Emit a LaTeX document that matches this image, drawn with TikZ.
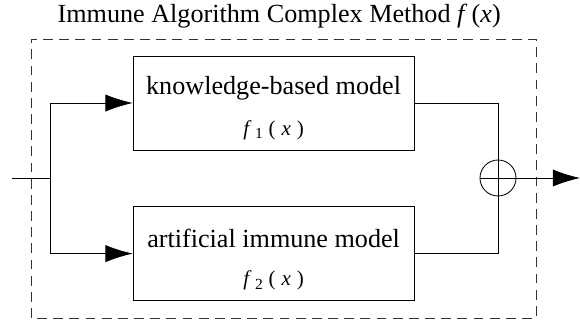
\documentclass[tikz,border=0pt]{standalone}
\usepackage{fontspec}
\setmainfont{Liberation Serif}
\usetikzlibrary{arrows.meta}

\newcommand{\fsub}[1]{\raisebox{-0.35ex}{\fontsize{11}{12}\selectfont #1}}

\tikzset{
	model/.style={draw,line width=0.6pt,minimum width=7.025cm,minimum height=2.35cm,inner sep=0pt},
	modeltext/.style={font=\fontsize{18.6}{21}\selectfont,inner sep=0pt},
	fxtext/.style={font=\fontsize{15}{17}\selectfont,inner sep=0pt},
	wire/.style={line width=0.6pt},
	sig/.style={wire,-{Latex[length=0.68cm,width=0.43cm]}}
}

\begin{document}
\begin{tikzpicture}
	\useasboundingbox (0,0) rectangle (14.5,8);
	%frame
	\draw[line width=0.6pt,black!80,dash pattern=on 7pt off 4.5pt] (0.775,0.05) rectangle (13.4,7.025);
	\node[modeltext] (title) at (6.98,7.59) {Immune Algorithm Complex Method \textit{f}\,(\textit{x})};

	%models
	\node[model] (kb) at (6.84,5.425) {};
	\node[modeltext] (kbname) at ([yshift=0.38cm]kb.center) {knowledge-based model};
	\node[fxtext] (kbf) at ([yshift=-0.68cm]kb.center) {\textit{f}\,\fsub{1}\;(\;\textit{x}\;)};

	\node[model] (aim) at (6.84,1.66) {};
	\node[modeltext] (aimname) at ([yshift=0.38cm]aim.center) {artificial immune model};
	\node[fxtext] (aimf) at ([yshift=-0.68cm]aim.center) {\textit{f}\,\fsub{2}\;(\;\textit{x}\;)};

	%summing junction
	\node[draw,circle,line width=0.6pt,minimum size=0.9cm,inner sep=0pt] (sum) at (12.45,3.55) {};

	%signal paths
	\coordinate (in) at (0.3,3.55);
	\coordinate (split) at (1.25,3.55);
	\coordinate (out) at (14.5,3.55);
	\draw[wire] (in) -- (split);
	\draw[sig] (split) |- (kb.west);
	\draw[sig] (split) |- (aim.west);
	\draw[wire] (kb.east) -| (sum.south);
	\draw[wire] (aim.east) -| (sum.north);
	\draw[sig] (sum.west) -- (out);
\end{tikzpicture}
\end{document}
